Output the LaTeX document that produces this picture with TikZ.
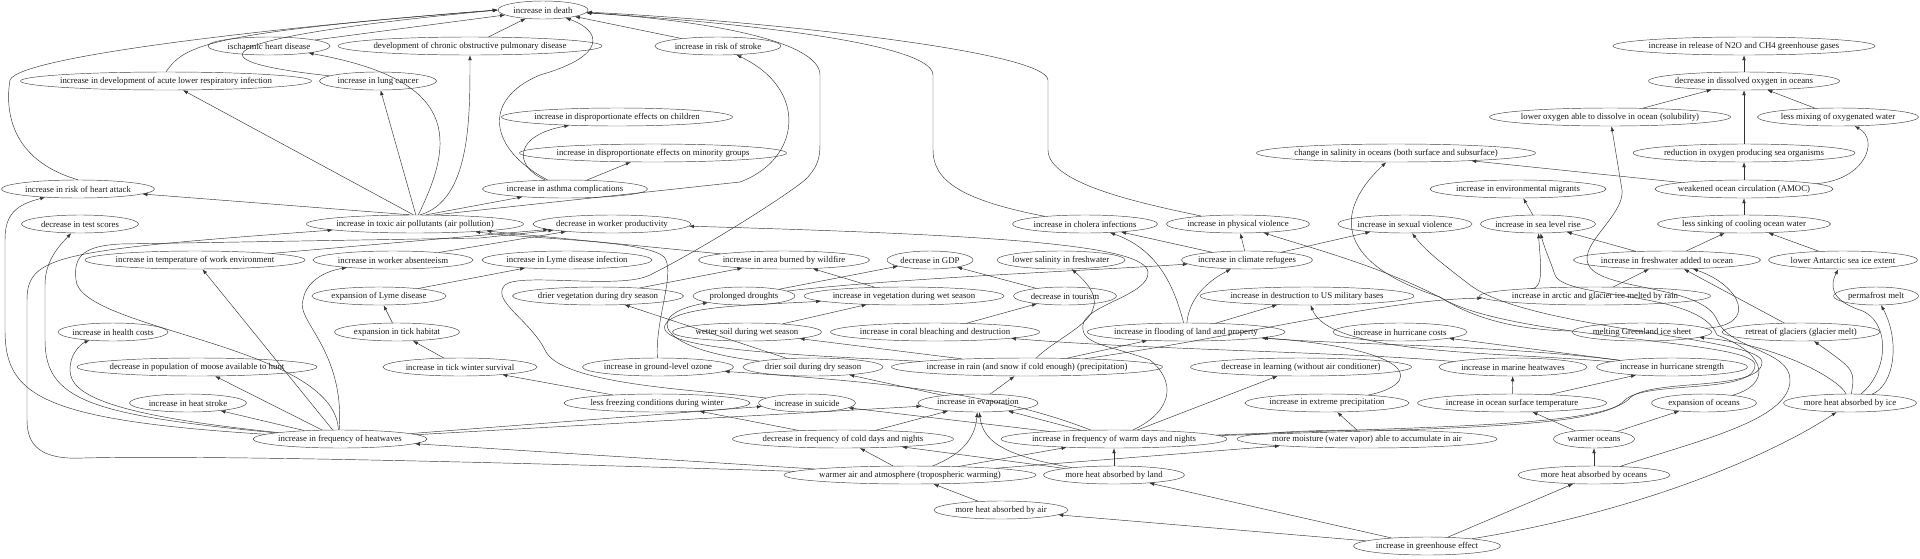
\documentclass[tikz,border=0pt]{standalone}
\usepackage{fontspec}
\setmainfont{Liberation Serif}
\usetikzlibrary{shapes.geometric,arrows.meta}
\newcommand\nfs{\fontsize{8.8}{9}\selectfont}
\tikzset{
  nd/.style={draw=black!75, line width=0.45pt, ellipse, inner xsep=-30pt, inner ysep=0pt, minimum height=18pt, font=\nfs, text=black!90},
  e/.style={draw=black!80, line width=0.45pt, -{Latex[length=5pt,width=3.6pt]}},
}
\begin{document}
\begin{tikzpicture}[x=1pt,y=-1pt]
\useasboundingbox (0,0) rectangle (1920,558);
% rank 0
\node[nd,minimum width=90] (death) at (543,10) {increase in death};
% rank 1
\node[nd,minimum width=122] (ihd) at (269,46) {ischaemic heart disease};
\node[nd,minimum width=264] (copd) at (470,46) {development of chronic obstructive pulmonary disease};
\node[nd,minimum width=126] (stroke) at (718,46) {increase in risk of stroke};
\node[nd,minimum width=262] (n2o) at (1744,46) {increase in release of N2O and CH4 greenhouse gases};
% rank 2
\node[nd,minimum width=291] (acute) at (166,81) {increase in development of acute lower respiratory infection};
\node[nd,minimum width=117] (lung) at (378,81) {increase in lung cancer};
\node[nd,minimum width=191] (dox) at (1744,81) {decrease in dissolved oxygen in oceans};
% rank 3
\node[nd,minimum width=231] (children) at (617,117) {increase in disproportionate effects on children};
\node[nd,minimum width=241] (solub) at (1610,117) {lower oxygen able to dissolve in ocean (solubility)};
\node[nd,minimum width=161] (mixing) at (1838,117) {less mixing of oxygenated water};
% rank 4
\node[nd,minimum width=267] (minority) at (653,153) {increase in disproportionate effects on minority groups};
\node[nd,minimum width=279] (salinity) at (1396,153) {change in salinity in oceans (both surface and subsurface)};
\node[nd,minimum width=222] (organisms) at (1744,153) {reduction in oxygen producing sea organisms};
% rank 5
\node[nd,minimum width=153] (heart) at (78,189) {increase in risk of heart attack};
\node[nd,minimum width=165] (asthma) at (565,189) {increase in asthma complications};
\node[nd,minimum width=176] (migrants) at (1518,189) {increase in environmental migrants};
\node[nd,minimum width=178] (amoc) at (1744,189) {weakened ocean circulation (AMOC)};
% rank 6
\node[nd,minimum width=117] (test) at (80,224) {decrease in test scores};
\node[nd,minimum width=217] (toxic) at (415,224) {increase in toxic air pollutants (air pollution)};
\node[nd,minimum width=158] (product) at (612,224) {decrease in worker productivity};
\node[nd,minimum width=145] (cholera) at (1085,224) {increase in cholera infections};
\node[nd,minimum width=143] (physv) at (1238,224) {increase in physical violence};
\node[nd,minimum width=134] (sexv) at (1405,224) {increase in sexual violence};
\node[nd,minimum width=115] (sealevel) at (1538,224) {increase in sea level rise};
\node[nd,minimum width=173] (sinking) at (1744,224) {less sinking of cooling ocean water};
% rank 7
\node[nd,minimum width=220] (tempwork) at (195,260) {increase in temperature of work environment};
\node[nd,minimum width=160] (absent) at (393,260) {increase in worker absenteeism};
\node[nd,minimum width=170] (lyme) at (567,260) {increase in Lyme disease infection};
\node[nd,minimum width=171] (wildfire) at (784,260) {increase in area burned by wildfire};
\node[nd,minimum width=86] (gdp) at (930,260) {decrease in GDP};
\node[nd,minimum width=128] (lowsal) at (1061,260) {lower salinity in freshwater};
\node[nd,minimum width=131] (refugees) at (1247,260) {increase in climate refugees};
\node[nd,minimum width=187] (freshw) at (1667,260) {increase in freshwater added to ocean};
\node[nd,minimum width=149] (antarctic) at (1843,260) {lower Antarctic sea ice extent};
% rank 8
\node[nd,minimum width=134] (explyme) at (379,296) {expansion of Lyme disease};
\node[nd,minimum width=171] (dryveg) at (598,296) {drier vegetation during dry season};
\node[nd,minimum width=102] (drought) at (744,296) {prolonged droughts};
\node[nd,minimum width=200] (wetveg) at (904,296) {increase in vegetation during wet season};
\node[nd,minimum width=103] (tourism) at (1065,296) {decrease in tourism};
\node[nd,minimum width=214] (military) at (1307,296) {increase in destruction to US military bases};
\node[nd,minimum width=231] (arctic) at (1595,296) {increase in arctic and glacier ice melted by rain};
\node[nd,minimum width=85] (permafrost) at (1876,296) {permafrost melt};
% rank 9
\node[nd,minimum width=110] (health) at (113,332) {increase in health costs};
\node[nd,minimum width=125] (tick) at (397,332) {expansion in tick habitat};
\node[nd,minimum width=149] (wetsoil) at (747,332) {wetter soil during wet season};
\node[nd,minimum width=209] (coral) at (935,332) {increase in coral bleaching and destruction};
\node[nd,minimum width=198] (flood) at (1186,332) {increase in flooding of land and property};
\node[nd,minimum width=134] (hcost) at (1400,332) {increase in hurricane costs};
\node[nd,minimum width=140] (greenland) at (1642,332) {melting Greenland ice sheet};
\node[nd,minimum width=158] (glacier) at (1801,332) {retreat of glaciers (glacier melt)};
% rank 10
\node[nd,minimum width=240] (moose) at (197,367) {decrease in population of moose available to hunt};
\node[nd,minimum width=154] (ticksurv) at (460,367) {increase in tick winter survival};
\node[nd,minimum width=151] (ozone) at (658,367) {increase in ground-level ozone};
\node[nd,minimum width=140] (drysoil) at (813,367) {drier soil during dry season};
\node[nd,minimum width=271] (rain) at (1027,367) {increase in rain (and snow if cold enough) (precipitation)};
\node[nd,minimum width=221] (learning) at (1301,367) {decrease in learning (without air conditioner)};
\node[nd,minimum width=148] (marine) at (1513,367) {increase in marine heatwaves};
\node[nd,minimum width=151] (hstrength) at (1672,367) {increase in hurricane strength};
% rank 11
\node[nd,minimum width=117] (heatstroke) at (188,403) {increase in heat stroke};
\node[nd,minimum width=186] (lessfreeze) at (657,403) {less freezing conditions during winter};
\node[nd,minimum width=97] (suicide) at (807,403) {increase in suicide};
\node[nd,minimum width=120] (evap) at (978,403) {increase in evaporation};
\node[nd,minimum width=164] (extreme) at (1327,403) {increase in extreme precipitation};
\node[nd,minimum width=189] (ost) at (1512,403) {increase in ocean surface temperature};
\node[nd,minimum width=105] (expocean) at (1704,403) {expansion of oceans};
\node[nd,minimum width=133] (heatice) at (1850,403) {more heat absorbed by ice};
% rank 12
\node[nd,minimum width=174] (hw) at (340,439) {increase in frequency of heatwaves};
\node[nd,minimum width=221] (cold) at (843,439) {decrease in frequency of cold days and nights};
\node[nd,minimum width=226] (warm) at (1114,439) {increase in frequency of warm days and nights};
\node[nd,minimum width=260] (moist) at (1367,439) {more moisture (water vapor) able to accumulate in air};
\node[nd,minimum width=81] (warmoc) at (1594,439) {warmer oceans};
% rank 13
\node[nd,minimum width=252] (warmair) at (910,475) {warmer air and atmosphere (tropospheric warming)};
\node[nd,minimum width=141] (land) at (1114,475) {more heat absorbed by land};
\node[nd,minimum width=152] (oceans) at (1594,475) {more heat absorbed by oceans};
% rank 14
\node[nd,minimum width=134] (air) at (1001,510) {more heat absorbed by air};
% rank 15
\node[nd,minimum width=147] (ghe) at (1427,546) {increase in greenhouse effect};

% ---------------- edges ----------------
\draw[e] (ihd) -- (death);
\draw[e] (copd) -- (death);
\draw[e] (stroke) -- (death);
\draw[e] (acute.north) .. controls (185,45) and (205,33) .. (death.west);
\draw[e] (lung) .. controls (200,62) and (185,40) .. (death.west);
\draw[e] (heart.north) .. controls (10,160) and (5,110) .. (10,80) .. controls (20,55) and (300,25) .. (death.west);
\draw[e] (asthma) .. controls (490,150) and (480,100) .. (540,75) .. controls (610,55) and (600,30) .. (death);
\draw[e] (cholera) .. controls (960,200) and (933,180) .. (933,150) -- (933,75) .. controls (933,40) and (700,20) .. (death);
\draw[e] (physv) .. controls (1150,205) and (1048,185) .. (1048,150) -- (1048,80) .. controls (1045,50) and (750,20) .. (death);
\draw[e] (suicide) .. controls (700,390) and (560,385) .. (545,350) .. controls (530,320) and (490,300) .. (505,285) .. controls (520,272) and (620,290) .. (650,275) .. controls (700,250) and (780,200) .. (805,180) .. controls (820,165) and (820,155) .. (820,140) -- (820,75) .. controls (820,40) and (700,20) .. (death);

\draw[e] (toxic.70) .. controls (455,140) and (460,80) .. (ihd);
\draw[e] (toxic.60) .. controls (470,200) and (470,120) .. (copd);
\draw[e] (toxic.100) -- (acute);
\draw[e] (toxic.85) -- (lung);
\draw[e] (toxic.25) -- (740,182) .. controls (800,160) and (810,90) .. (stroke);
\draw[e] (toxic.40) -- (asthma);
\draw[e] (toxic.120) -- (heart);
\draw[e] (asthma) .. controls (512,165) and (515,135) .. (children);
\draw[e] (asthma) -- (minority);

\draw[e] (hw) .. controls (40,420) and (5,395) .. (5,330) -- (5,240) .. controls (5,215) and (15,205) .. (heart);
\draw[e] (hw) .. controls (90,415) and (45,400) .. (45,340) -- (45,285) .. controls (45,260) and (60,245) .. (test);
\draw[e] (hw) .. controls (110,415) and (70,395) .. (70,370) .. controls (70,350) and (85,342) .. (health);
\draw[e] (hw) -- (moose);
\draw[e] (hw) -- (heatstroke);
\draw[e] (hw) -- (tempwork);
\draw[e] (hw.95) .. controls (345,350) and (295,320) .. (303,300) .. controls (305,285) and (320,272) .. (absent);
\draw[e] (hw.100) .. controls (335,345) and (80,330) .. (76,280) .. controls (73,255) and (85,246) .. (120,244) -- (480,238) -- (product);
\draw[e] (hw) -- (suicide);
\draw[e] (hw) -- (evap);
\draw[e] (tempwork) -- (product);
\draw[e] (absent) -- (product);
\draw[e] (explyme) -- (lyme);
\draw[e] (tick) -- (explyme);
\draw[e] (ticksurv) -- (tick);
\draw[e] (lessfreeze) -- (ticksurv);
\draw[e] (cold) -- (lessfreeze);
\draw[e] (cold) -- (evap);

\draw[e] (warmair) -- (cold);
\draw[e] (warmair) -- (warm);
\draw[e] (warmair) -- (moist);
\draw[e] (warmair) -- (hw);
\draw[e] (warmair) .. controls (500,462) and (200,455) .. (83,458) .. controls (40,460) and (27,445) .. (27,420) -- (27,300) .. controls (27,255) and (60,250) .. (toxic);
\draw[e] (warmair) .. controls (960,455) and (975,440) .. (evap);
\draw[e] (air) -- (warmair);
\draw[e] (land) -- (warm);
\draw[e] (land) .. controls (1000,455) and (983,440) .. (evap);
\draw[e] (land) -- (cold);
\draw[e] (ghe) -- (air);
\draw[e] (ghe) -- (land);
\draw[e] (ghe) -- (oceans);
\draw[e] (ghe) .. controls (1650,510) and (1780,450) .. (heatice);
\draw[e] (oceans) -- (warmoc);
\draw[e] (warmoc) -- (ost);
\draw[e] (warmoc) -- (expocean);
\draw[e] (ost) -- (marine);
\draw[e] (ost) -- (hstrength);
\draw[e] (moist) -- (extreme);
\draw[e] (extreme) .. controls (1420,385) and (1425,350) .. (flood);

\draw[e] (evap) -- (rain);
\draw[e] (evap) -- (drysoil);
\draw[e] (rain) -- (flood);
\draw[e] (rain) -- (wetsoil);
\draw[e] (rain) .. controls (1065,330) and (1125,315) .. (lowsal);
\draw[e] (rain) .. controls (1250,335) and (1380,300) .. (arctic);
\draw[e] (rain) .. controls (800,355) and (655,350) .. (665,325) .. controls (675,305) and (760,305) .. (wetveg);
\draw[e] (wetsoil) -- (wetveg);
\draw[e] (wetveg) -- (wildfire);
\draw[e] (dryveg) -- (wildfire);
\draw[e] (drysoil) -- (dryveg);
\draw[e] (drysoil) .. controls (660,350) and (640,315) .. (drought);
\draw[e] (wildfire) -- (toxic);
\draw[e] (ozone) .. controls (655,320) and (675,275) .. (665,258) .. controls (650,240) and (540,240) .. (toxic);
\draw[e] (drought) -- (gdp);
\draw[e] (drought) .. controls (900,278) and (1100,270) .. (refugees);
\draw[e] (tourism) -- (gdp);
\draw[e] (coral) -- (tourism);
\draw[e] (marine) .. controls (1350,352) and (1150,350) .. (coral);
\draw[e] (flood) .. controls (1175,290) and (1160,250) .. (cholera);
\draw[e] (flood) .. controls (1190,290) and (1220,275) .. (refugees);
\draw[e] (flood) -- (military);
\draw[e] (refugees) -- (cholera);
\draw[e] (refugees) -- (physv);
\draw[e] (refugees) -- (sexv);
\draw[e] (hstrength) -- (hcost);
\draw[e] (hstrength) .. controls (1500,345) and (1350,345) .. (flood);
\draw[e] (hstrength) .. controls (1500,352) and (1330,355) .. (military);

\draw[e] (warm) .. controls (1450,428) and (1600,428) .. (1625,400) .. controls (1645,380) and (1755,395) .. (1755,365) .. controls (1755,340) and (1520,340) .. (1445,300) .. controls (1380,265) and (1300,245) .. (physv);
\draw[e] (warm) .. controls (1450,426) and (1605,426) .. (1630,398) .. controls (1650,378) and (1762,392) .. (1762,362) .. controls (1762,337) and (1530,330) .. (1470,285) .. controls (1440,262) and (1425,250) .. (sexv);
\draw[e] (warm) -- (learning);
\draw[e] (warm) -- (suicide);
\draw[e] (warm) -- (evap);
\draw[e] (warm) .. controls (1175,410) and (1175,380) .. (1150,360) .. controls (1110,345) and (1080,345) .. (1083,325) .. controls (1085,305) and (1150,295) .. (1148,272) .. controls (1145,245) and (1000,235) .. (product);
\draw[e] (warm) .. controls (1000,395) and (900,383) .. (ozone);

\draw[e] (heatice) .. controls (1895,385) and (1900,340) .. (permafrost);
\draw[e] (heatice) .. controls (1855,370) .. (glacier);
\draw[e] (heatice) .. controls (1840,380) and (1780,345) .. (greenland);
\draw[e] (heatice) .. controls (1890,370) and (1890,320) .. (1860,310) .. controls (1830,300) and (1830,285) .. (antarctic);
\draw[e] (arctic) -- (freshw);
\draw[e] (arctic) .. controls (1545,290) and (1540,260) .. (sealevel);
\draw[e] (greenland) .. controls (1760,325) and (1740,285) .. (freshw);
\draw[e] (greenland) .. controls (1500,330) and (1460,310) .. (1440,297) .. controls (1340,265) and (1330,215) .. (salinity);
\draw[e] (glacier) -- (freshw);
\draw[e] (freshw) -- (sealevel);
\draw[e] (freshw) -- (sinking);
\draw[e] (antarctic) -- (sinking);
\draw[e] (sealevel) -- (migrants);
\draw[e] (sinking) -- (amoc);
\draw[e] (amoc) -- (organisms);
\draw[e] (amoc) .. controls (1865,180) and (1880,140) .. (mixing);
\draw[e] (amoc) -- (salinity);
\draw[e] (organisms) -- (dox);
\draw[e] (solub) -- (dox);
\draw[e] (mixing) -- (dox);
\draw[e] (dox) -- (n2o);
\draw[e] (oceans) .. controls (1700,440) and (1790,420) .. (1790,380) .. controls (1790,350) and (1730,350) .. (1717,320) .. controls (1705,290) and (1630,290) .. (1600,275) .. controls (1560,255) and (1625,220) .. (1622,190) -- (solub);
\draw[e] (expocean) .. controls (1770,385) and (1770,355) .. (1717,335) .. controls (1700,290) and (1565,300) .. (1555,275) .. controls (1550,260) and (1545,250) .. (sealevel);
\end{tikzpicture}
\end{document}
